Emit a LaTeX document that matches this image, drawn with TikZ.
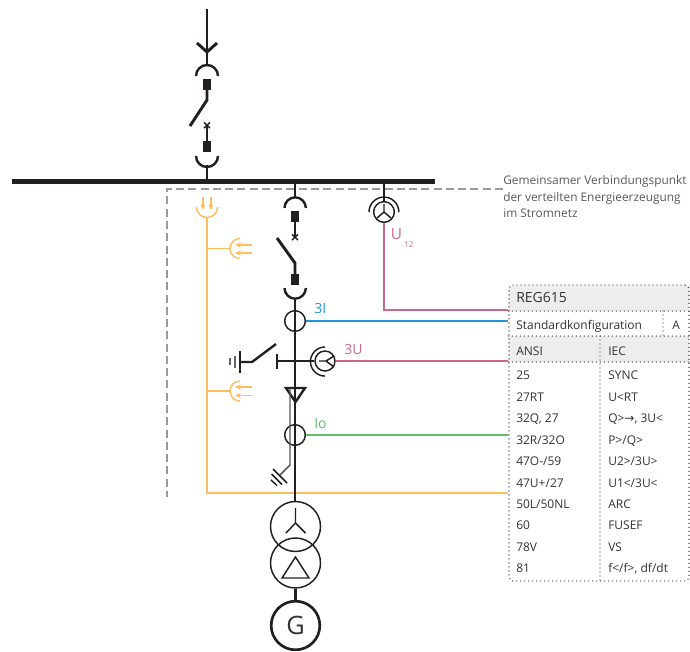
\documentclass[tikz,border=0pt]{standalone}
\usepackage{fontspec}
\setmainfont{Open Sans}
\newfontfamily\arrowfont{DejaVu Sans}
\usetikzlibrary{arrows.meta,calc}
\definecolor{uPink}{HTML}{C9678C}
\definecolor{iBlue}{HTML}{1F96D6}
\definecolor{ioGreen}{HTML}{5CBF6C}
\definecolor{dgOrange}{HTML}{FDBE62}
\definecolor{dashGray}{HTML}{9A9A9A}
\definecolor{txtGray}{HTML}{333333}
\definecolor{headFill}{HTML}{EDEDED}
\definecolor{symBlack}{HTML}{231F20}

\begin{document}
\begin{tikzpicture}
[x=0.75pt,y=-0.75pt,
Power/.style={draw=symBlack,line width=2.2pt},
Socket/.style={draw=symBlack,line width=1.8pt},
Sym/.style={draw=symBlack,line width=1.1pt},
BusBar/.style={draw=symBlack,line width=3.9pt},
Breaker/.style={rectangle,fill=symBlack,inner sep=0pt,minimum width=6pt,minimum height=8.2pt},
Coil/.style={circle,draw=symBlack,line width=1.1pt,inner sep=0pt,minimum size=15.5pt},
Trafo/.style={circle,draw=symBlack,line width=1.1pt,inner sep=0pt,minimum size=37.5pt},
Gen/.style={circle,draw=symBlack,line width=2pt,inner sep=0pt,minimum size=36.5pt,text=txtGray,font=\fontsize{19}{19}\selectfont},
DG/.style={draw=dgOrange,line width=1.1pt},
DGArrow/.style={draw=dgOrange,line width=1.1pt,-{Stealth[length=4.5pt,width=4pt]}},
Tag/.style={rectangle,inner sep=0pt,anchor=mid west,yshift=-1pt,text=txtGray,font=\fontsize{9}{10}\selectfont},
Note/.style={rectangle,inner sep=0pt,anchor=mid west,yshift=-0.6pt,text=black!65,font=\fontsize{8.9}{10}\selectfont},
SigTag/.style={rectangle,inner sep=0pt,anchor=mid west,yshift=-0.6pt,font=\fontsize{10.5}{12}\selectfont},
TabBox/.style={rectangle,draw=black!80,line width=1pt,line cap=round,dash pattern=on 0pt off 3pt,rounded corners=3pt,inner sep=0pt,minimum width=135pt,minimum height=222pt},
TabLine/.style={draw=black!80,line width=1pt,line cap=round,dash pattern=on 0pt off 3pt}]

\useasboundingbox (0,0) rectangle (690,651);

% Einspeisung oben
\coordinate (c1) at (207,9);
\coordinate (c2) at (207,52);
\coordinate (c3) at (207,66);
\coordinate (c4) at (207,100);
\coordinate (c5) at (190,126);
\coordinate (c6) at (207,125);
\coordinate (c7) at (207,165);
\coordinate (c8) at (207,181);
\node[Breaker] (b1) at (207,84.5) {};
\node[Breaker] (b2) at (207,146.5) {};
\draw[Power] (c1) -- (c3);
\draw[Power] (197,43) -- (c2) -- (217,43);
\draw[Socket] (196,76) arc[start angle=180,end angle=0,radius=8.25pt];
\draw[Power] (b1.south) -- (c4) -- (c5);
\draw[Sym] (204,122.5) -- (210,128);
\draw[Sym] (210,122.5) -- (204,128);
\draw[Power,line width=1.6pt] (c6) -- (b2.north);
\draw[Socket] (196,156) arc[start angle=180,end angle=360,radius=8.25pt];
\draw[Power] (c7) -- (c8);

% Sammelschiene
\coordinate (busL) at (12,181.5);
\coordinate (busR) at (435,181.5);
\draw[BusBar] (busL) -- (busR);

% Anschlusspunkt
\draw[dashGray,line width=1.1pt,dash pattern=on 6pt off 3.2pt] (503,189) -- (167,189) -- (167,497);
\node[Note] (t1) at (503,180) {Gemeinsamer Verbindungspunkt};
\node[Note] (t2) at (503,197) {der verteilten Energieerzeugung};
\node[Note] (t3) at (503,213) {im Stromnetz};

% Tabelle
\fill[headFill,rounded corners=3pt] (509,311) -- (509,285) -- (689,285) -- (689,311) [sharp corners] -- cycle;
\fill[headFill] (509,336) rectangle (689,362);
\node[TabBox] (tab) at (599,433) {};
\draw[TabLine] (tab.west |- 0,311) -- (tab.east |- 0,311);
\draw[TabLine] (tab.west |- 0,336) -- (tab.east |- 0,336);
\draw[TabLine] (tab.west |- 0,362) -- (tab.east |- 0,362);
\draw[TabLine] (663,311) -- (663,336);
\draw[TabLine] (600,336) -- (600,0 |- tab.south);
\node[Tag,font=\fontsize{10.5}{11}\selectfont] (n1) at (516,298) {REG615};
\node[Tag] (n2) at (516,325) {Standardkonfiguration};
\node[Tag] (n3) at (672,325) {A};
\node[Tag] (n4) at (516,351) {ANSI};
\node[Tag] (n5) at (608,351) {IEC};
\node[Tag] (n6) at (516,375) {25};
\node[Tag] (n7) at (608,375) {SYNC};
\node[Tag] (n8) at (516,396.5) {27RT};
\node[Tag] (n9) at (608,396.5) {U<RT};
\node[Tag] (n10) at (516,418) {32Q, 27};
\node[Tag] (n11) at (608,418) {Q>{\arrowfont →}, 3U<};
\node[Tag] (n12) at (516,439.5) {32R/32O};
\node[Tag] (n13) at (608,439.5) {P>/Q>};
\node[Tag] (n14) at (516,461) {47O-/59};
\node[Tag] (n15) at (608,461) {U2>/3U>};
\node[Tag] (n16) at (516,482.5) {47U+/27};
\node[Tag] (n17) at (608,482.5) {U1</3U<};
\node[Tag] (n18) at (516,503.5) {50L/50NL};
\node[Tag] (n19) at (608,503.5) {ARC};
\node[Tag] (n20) at (516,525) {60};
\node[Tag] (n21) at (608,525) {FUSEF};
\node[Tag] (n22) at (516,546.5) {78V};
\node[Tag] (n23) at (608,546.5) {VS};
\node[Tag] (n24) at (516,568) {81};
\node[Tag] (n25) at (608,568) {f</f>, df/dt};

% Abgang
\coordinate (m1) at (295,181);
\coordinate (m2) at (295,198);
\coordinate (m3) at (295,237);
\coordinate (m4) at (277,238);
\coordinate (m5) at (295,263);
\coordinate (m6) at (295,299);
\node[Breaker] (b3) at (295,216.5) {};
\node[Breaker] (b4) at (295,279.5) {};
\node[Coil] (ct1) at (295,321) {};
\node[Coil] (ct2) at (295,435) {};
\node[Trafo] (tr1) at (295.5,526.5) {};
\node[Trafo] (tr2) at (295.5,563) {};
\node[Gen] (gen) at (295.5,625.5) {G};
\draw[Power] (m1) -- (m2);
\draw[Socket] (284.5,208) arc[start angle=180,end angle=0,radius=8pt];
\draw[Power,line width=1.6pt] (b3.south) -- (m3);
\draw[Sym] (292,234.5) -- (298,240);
\draw[Sym] (298,234.5) -- (292,240);
\draw[Power] (m4) -- (m5) -- (b4.north);
\draw[Socket] (284.5,288) arc[start angle=180,end angle=360,radius=8pt];
\draw[Power] (m6) -- (tr1.north -| m6);
\draw[Power] (tr2.south) -- (gen.north);
% Stern und Dreieck
\coordinate (y1) at (295.5,523);
\draw[Sym] (295.5,508) -- (y1) -- (286,533);
\draw[Sym] (y1) -- (305.5,533);
\draw[Sym] (295.5,557) -- (282,578) -- (309,578) -- cycle;

% Erdung
\coordinate (e1) at (240,362);
\coordinate (e2) at (252,362);
\coordinate (e3) at (276,344);
\node[Coil,minimum size=15pt] (vt2) at (325,361) {};
\draw[Power] (277,354) -- (277,369);
\draw[Power] (277,361) -- (vt2.west);
\draw[Power,line width=1.8pt] (e1) -- (e2) -- (e3);
\draw[Sym] (240,351) -- (240,373);
\draw[Sym,draw=black!60,line width=1.3pt] (235,356) -- (235,368);
\draw[Sym,draw=black!60,line width=1.3pt] (230,358) -- (230,365);
\draw[Sym] (325,347) arc[start angle=90,end angle=270,radius=10.9pt];
\draw[Sym] (319,361) -- (326,361) -- (334,356);
\draw[Sym] (326,361) -- (334,367);

% Wandler
\coordinate (w1) at (290,388);
\coordinate (w2) at (290,465);
\coordinate (w3) at (280,475);
\draw[Power,line width=1.8pt] (286,388) -- (305,388) -- (295.5,402) -- cycle;
\draw[draw=black!65,line width=1.1pt] (w1) -- (w2) -- (w3);
\draw[Sym] (273,469) -- (287,483);
\draw[Sym] (271.5,474) -- (282,484.5);
\draw[Sym] (271,480) -- (277,485.5);

% Spannung
\coordinate (u1) at (384,181);
\node[Coil] (vt1) at (384,212) {};
\draw[Power] (u1) -- (vt1.north);
\draw[Sym] (369,212) arc[start angle=180,end angle=0,radius=11.2pt];
\draw[Sym] (384,204) -- (384,212) -- (377,218);
\draw[Sym] (384,212) -- (391,218);

% Signale
\draw[uPink,line width=1.2pt] (vt1.south) |- (tab.west |- 0,310);
\draw[iBlue,line width=1.2pt] (ct1.east) -- (ct1.east -| tab.west);
\draw[uPink,line width=1.2pt] (vt2.east) -- (vt2.east -| tab.west);
\draw[ioGreen,line width=1.2pt] (ct2.east) -- (ct2.east -| tab.west);
\node[SigTag,text=iBlue] (s1) at (314,309) {3I};
\node[SigTag,text=uPink] (s2) at (344,350) {3U};
\node[SigTag,text=ioGreen] (s3) at (314,424) {Io};
\node[SigTag,text=uPink,font=\fontsize{11.5}{12}\selectfont] (s4) at (390.5,235) {U};
\node[SigTag,text=uPink,font=\fontsize{6}{6}\selectfont] (s5) at (404,243) {12};

% Erzeuger
\coordinate (d1) at (207,217);
\coordinate (d2) at (207,248.5);
\coordinate (d3) at (230,248.5);
\coordinate (d4) at (207,391);
\coordinate (d5) at (230,391);
\coordinate (d6) at (207,493);
\draw[DG] (196.5,207) arc[start angle=180,end angle=360,radius=7.9pt];
\draw[DGArrow] (203,197) -- (203,210);
\draw[DGArrow] (211,197) -- (211,210);
\draw[DG] (d1) -- (d6) -- (d6 -| tab.west);
\draw[DG] (d2) -- (d3);
\draw[DG] (240,238.5) arc[start angle=90,end angle=270,radius=7.5pt];
\draw[DGArrow] (252,245) -- (235,245);
\draw[DGArrow] (252,253) -- (235,253);
\draw[DG] (d4) -- (d5);
\draw[DG] (240,381) arc[start angle=90,end angle=270,radius=7.5pt];
\draw[DGArrow] (252,387) -- (235,387);
\draw[DGArrow] (252,395.5) -- (235,395.5);

% Hauptleitung
\draw[Power] (m6) -- (295,502);
\end{tikzpicture}
\end{document}
